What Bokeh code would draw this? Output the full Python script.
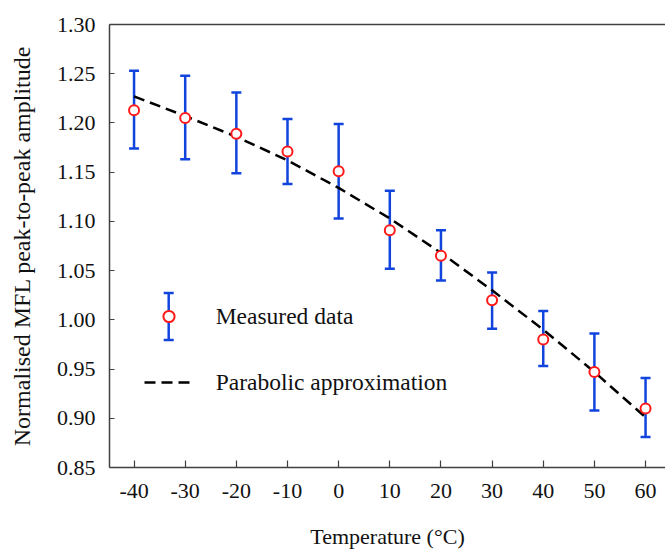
from bokeh.plotting import figure
from bokeh.models import (ColumnDataSource, Whisker, TeeHead, LinearAxis, FixedTicker,
                          Range1d, Legend, LegendItem)
from bokeh.embed import file_html
from bokeh.resources import INLINE

# ---- data ----
temperature = [-40, -30, -20, -10, 0, 10, 20, 30, 40, 50, 60]
measured = [1.213, 1.205, 1.189, 1.171, 1.151, 1.091, 1.065, 1.020, 0.980, 0.947, 0.910]
err_upper = [1.253, 1.248, 1.231, 1.204, 1.199, 1.131, 1.091, 1.048, 1.009, 0.986, 0.941]
err_lower = [1.174, 1.163, 1.149, 1.138, 1.103, 1.052, 1.040, 0.991, 0.953, 0.908, 0.881]
parabolic = [1.227, 1.207, 1.186, 1.162, 1.134, 1.103, 1.068, 1.030, 0.990, 0.947, 0.901]

x_ticks = [-40, -30, -20, -10, 0, 10, 20, 30, 40, 50, 60]
x_tick_labels = ["-40", "-30", "-20", "-10", "0", "10", "20", "30", "40", "50", "60"]
y_ticks = [0.85, 0.90, 0.95, 1.00, 1.05, 1.10, 1.15, 1.20, 1.25, 1.30]
y_tick_labels = ["0.85", "0.90", "0.95", "1.00", "1.05", "1.10", "1.15", "1.20", "1.25", "1.30"]

x_label = "Temperature (\u00b0C)"
y_label = "Normalised MFL peak-to-peak amplitude"
legend_labels = ["Measured data", "Parabolic approximation"]

FONT = "Liberation Serif"
BLUE = "#1144dd"
RED = "#ff1a1a"
AXIS = "#404040"

src = ColumnDataSource(dict(t=temperature, m=measured, up=err_upper, lo=err_lower, fit=parabolic))

p = figure(width=665, height=553,
           x_range=Range1d(-44.8, 63.9), y_range=Range1d(0.85, 1.30),
           output_backend="svg", toolbar_location=None,
           min_border_left=109, min_border_right=0, min_border_top=24, min_border_bottom=86,
           outline_line_color=None, background_fill_color="white", border_fill_color="white")
p.grid.visible = False

# error bars
whisk = Whisker(source=src, base="t", upper="up", lower="lo", dimension="height",
                line_color=BLUE, line_width=2.5, level="underlay",
                upper_head=TeeHead(size=10, line_color=BLUE, line_width=2.5),
                lower_head=TeeHead(size=10, line_color=BLUE, line_width=2.5))
p.add_layout(whisk)

fit_line = p.line("t", "fit", source=src, line_color="black", line_width=2.5, line_dash="11 6")
pts = p.scatter("t", "m", source=src, marker="circle", size=10, line_color=RED,
                line_width=2, fill_color="white")

# axes
xa = p.xaxis[0]
xa.ticker = FixedTicker(ticks=x_ticks)
xa.major_label_overrides = {t: s for t, s in zip(x_ticks, x_tick_labels)}
ya = p.yaxis[0]
ya.ticker = FixedTicker(ticks=y_ticks)
ya.major_label_overrides = {t: s for t, s in zip(y_ticks, y_tick_labels)}

for ax in (xa, ya):
    ax.axis_line_color = AXIS
    ax.axis_line_width = 1.5
    ax.major_tick_line_color = AXIS
    ax.major_tick_line_width = 1.2
    ax.major_tick_out = 0
    ax.minor_tick_line_color = None
    ax.major_label_text_font = FONT
    ax.major_label_text_font_size = "22px"
    ax.major_label_text_color = "#111111"
    ax.axis_label_text_font = FONT
    ax.axis_label_text_font_style = "normal"
    ax.axis_label_text_color = "#111111"

xa.major_tick_in = 7
xa.major_label_standoff = 16
xa.axis_label = x_label
xa.axis_label_text_font_size = "22px"
xa.axis_label_standoff = 23

ya.major_tick_in = 5
ya.major_label_standoff = 14
ya.axis_label = y_label
ya.axis_label_text_font_size = "24px"
ya.axis_label_standoff = 19

top = LinearAxis(ticker=FixedTicker(ticks=[]), axis_line_color=AXIS, axis_line_width=1.5,
                 major_tick_line_color=None, minor_tick_line_color=None,
                 major_label_text_font_size="0px")
p.add_layout(top, "above")

# legend
legend = Legend(items=[LegendItem(label=legend_labels[0], renderers=[pts]),
                       LegendItem(label=legend_labels[1], renderers=[fit_line])],
                location=(34.7, 71), orientation="vertical",
                glyph_width=49, glyph_height=28, label_height=28, spacing=38,
                label_standoff=23, padding=0, margin=0,
                border_line_color=None, background_fill_alpha=0,
                label_text_font=FONT, label_text_font_size="23.5px",
                label_text_color="#111111")
p.add_layout(legend)

# vertical error-bar symbol of the legend (screen units, relative to the frame)
leg_src = ColumnDataSource(dict(b=[59.2], lo=[127.5], up=[174.5]))
leg_whisk = Whisker(source=leg_src, base="b", lower="lo", upper="up", dimension="height",
                    base_units="screen", lower_units="screen", upper_units="screen",
                    line_color=BLUE, line_width=2.5, level="underlay",
                    upper_head=TeeHead(size=10, line_color=BLUE, line_width=2.5),
                    lower_head=TeeHead(size=10, line_color=BLUE, line_width=2.5))
p.add_layout(leg_whisk)

open("out.html", "w").write(file_html(p, INLINE))
